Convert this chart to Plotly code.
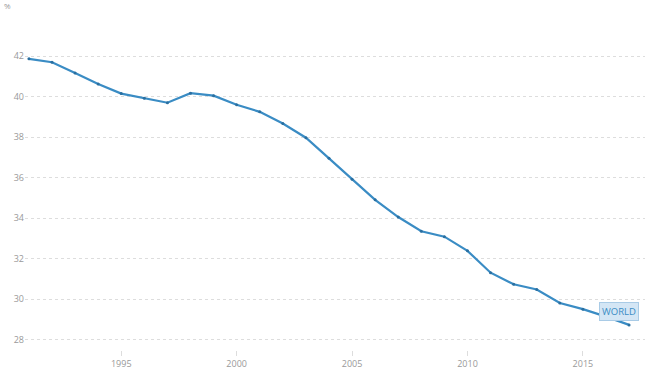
import plotly.graph_objects as go

years = list(range(1991, 2018))
values = [41.87, 41.70, 41.17, 40.63, 40.15, 39.92, 39.70, 40.17, 40.05, 39.60,
          39.25, 38.67, 37.97, 36.95, 35.92, 34.90, 34.05, 33.35, 33.08, 32.38,
          31.30, 30.73, 30.47, 29.80, 29.50, 29.13, 28.72]
x_ticks = [1995, 2000, 2005, 2010, 2015]
y_ticks = [28, 30, 32, 34, 36, 38, 40, 42]
series_name = "WORLD"

fig = go.Figure()
fig.add_trace(go.Scatter(
    x=years, y=values, mode="lines+markers",
    line=dict(color="#3a8cc4", width=2.2),
    marker=dict(size=3, color="#2a6fa0"),
    name=series_name, showlegend=False, hoverinfo="x+y"))

fig.add_annotation(
    x=2016.56, y=29.36, text=series_name, showarrow=False,
    font=dict(family="Open Sans", size=9.5, color="#3a8cc4"),
    bgcolor="#d4e6f5", bordercolor="#a9cbe6", borderwidth=1, borderpad=2)

fig.add_annotation(
    x=-0.037, y=1.11, xref="paper", yref="paper", xanchor="left", yanchor="middle",
    text="%", showarrow=False,
    font=dict(family="Open Sans", size=8, color="#999999"))

fig.update_layout(
    width=650, height=390,
    margin=dict(l=25, r=5, t=40, b=40, autoexpand=False),
    plot_bgcolor="white", paper_bgcolor="white",
    font=dict(family="Open Sans", size=9, color="#999999"),
    xaxis=dict(range=[1990.83, 2017.69], tickvals=x_ticks, showgrid=False,
               zeroline=False, showline=False, ticks="outside", ticklen=5,
               automargin=False,
               tickcolor="#dddddd", tickfont=dict(size=9, color="#999999")),
    yaxis=dict(range=[27.48, 42.8], tickvals=y_ticks, showgrid=True,
               gridcolor="#dddddd", griddash="dot", gridwidth=1,
               zeroline=False, showline=False, ticks="", automargin=False,
               tickfont=dict(size=9, color="#999999")),
)

fig.write_html("out.html", config={"displayModeBar": False},
               post_script="document.body.style.margin='0';")
